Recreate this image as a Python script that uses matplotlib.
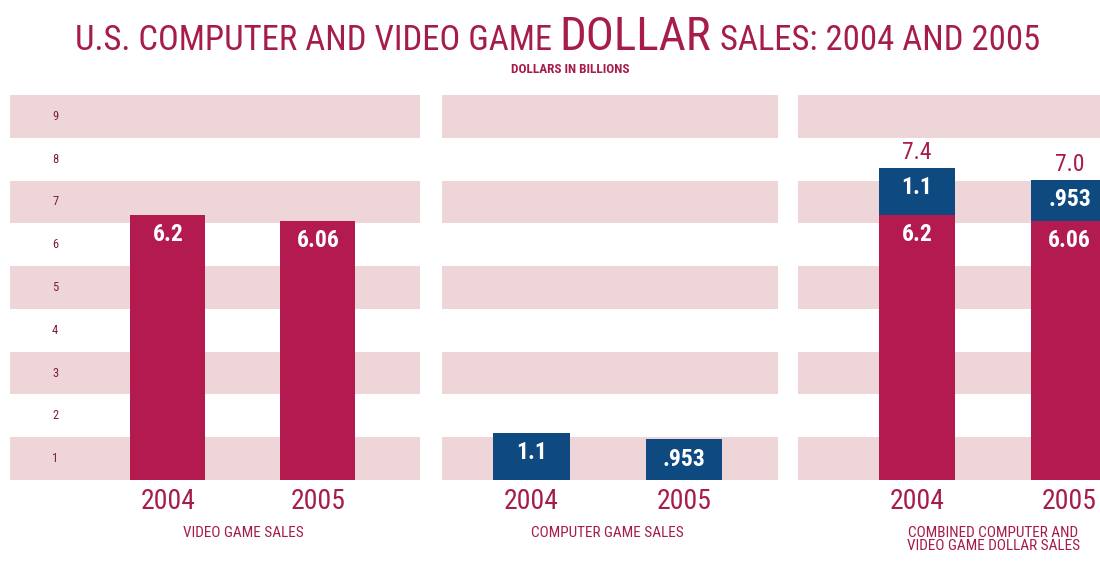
import matplotlib
matplotlib.use("Agg")
import matplotlib.pyplot as plt
from matplotlib import font_manager

# values in billions of dollars
years = ["2004", "2005"]
video_sales = [6.2, 6.06]
video_labels = ["6.2", "6.06"]
computer_sales = [1.1, 0.953]
computer_labels = ["1.1", ".953"]
combined_totals = ["7.4", "7.0"]
tick_values = [1, 2, 3, 4, 5, 6, 7, 8, 9]
panel_titles = ["VIDEO GAME SALES", "COMPUTER GAME SALES",
                "COMBINED COMPUTER AND\nVIDEO GAME DOLLAR SALES"]

RED = "#B31A50"
BLUE = "#0E4A80"
STRIPE = "#EED5D7"
TEXT = "#A61C4C"
TICK = "#7E1C3A"


def pick_font():
    fonts = font_manager.fontManager.ttflist
    names = {f.name for f in fonts}
    for n in ["Liberation Sans Narrow", "Roboto Condensed", "Open Sans Condensed",
              "DejaVu Sans Condensed"]:
        if n in names:
            return n, "normal"
    for f in fonts:
        if f.name == "DejaVu Sans" and f.stretch in ("condensed", "semi-condensed", 87, 75):
            return "DejaVu Sans", "condensed"
    return "DejaVu Sans", "normal"


FONT, STRETCH = pick_font()
plt.rcParams["font.family"] = [FONT, "DejaVu Sans"]
plt.rcParams["font.stretch"] = STRETCH

fig = plt.figure(figsize=(11, 5.7), dpi=100)
W, H = 1100, 570


def px_axes(x0, x1, y0=95, y1=480):
    return fig.add_axes([x0 / W, 1 - y1 / H, (x1 - x0) / W, (y1 - y0) / H])


ax1 = px_axes(10, 420)
ax2 = px_axes(442, 778)
ax3 = px_axes(798, 1100)
x = [0, 1]

for ax, lim in [(ax1, (-1.053, 1.68)), (ax2, (-0.587, 1.616)), (ax3, (-0.78, 1.2))]:
    for k in range(0, 9, 2):
        ax.axhspan(k, k + 1, color=STRIPE, lw=0, zorder=0)
    ax.set_xlim(*lim)
    ax.set_ylim(0, 9)
    ax.axis("off")


def inside(ax, xs, tops, labels):
    for xi, top, lab in zip(xs, tops, labels):
        ax.annotate(lab, (xi, top), xytext=(0, -6), textcoords="offset points",
                    ha="center", va="top", color="white", fontsize=17,
                    fontweight="bold", annotation_clip=False)


# video game sales
ax1.bar(x, video_sales, width=0.5, color=RED, zorder=2)
inside(ax1, x, video_sales, video_labels)
for v in tick_values:
    ax1.text(0.11, v - 0.5, str(v), transform=ax1.get_yaxis_transform(),
             ha="center", va="center", fontsize=9, color=TICK)

# computer game sales
ax2.bar(x, computer_sales, width=0.5, color=BLUE, zorder=2)
inside(ax2, x, computer_sales, computer_labels)

# combined, stacked
ax3.bar(x, video_sales, width=0.5, color=RED, zorder=2)
ax3.bar(x, computer_sales, width=0.5, bottom=video_sales, color=BLUE, zorder=2)
inside(ax3, x, video_sales, video_labels)
stack_tops = [a + b for a, b in zip(video_sales, computer_sales)]
inside(ax3, x, stack_tops, computer_labels)
for xi, top, lab in zip(x, stack_tops, combined_totals):
    ax3.annotate(lab, (xi, top), xytext=(0, 3), textcoords="offset points",
                 ha="center", va="bottom", color=TEXT, fontsize=17)

for ax, title in zip([ax1, ax2, ax3], panel_titles):
    for xi, yr in zip(x, years):
        ax.annotate(yr, (xi, 0), xytext=(0, -6), textcoords="offset points",
                    ha="center", va="top", color=TEXT, fontsize=20,
                    annotation_clip=False)
    ax.annotate(title, (0.5, 0), xytext=(0, -33), textcoords="offset points",
                ha="center", va="top", color=TEXT, fontsize=11,
                linespacing=0.9, annotation_clip=False)

# title built from runs so DOLLAR can be larger
renderer = fig.canvas.get_renderer()
runs = [("U.S. COMPUTER AND VIDEO GAME", 28), ("DOLLAR", 38),
        ("SALES: 2004 AND 2005", 28)]
texts = [fig.text(0, 1 - 50 / H, s, fontsize=sz, color=TEXT, va="baseline")
         for s, sz in runs]


def layout(scale):
    xpos = 75
    for t, (s, sz) in zip(texts, runs):
        t.set_fontsize(sz * scale)
        t.set_x(xpos / W)
        xpos += t.get_window_extent(renderer).width + sz * scale * 0.28
    return xpos - runs[-1][1] * scale * 0.28


end = layout(1.0)
layout((1040 - 75) / (end - 75))

fig.text(570 / W, 1 - 70 / H, "DOLLARS IN BILLIONS", ha="center", va="center",
         fontsize=9.5, fontweight="bold", color=TEXT)

fig.savefig("out.png", dpi=100, facecolor="white")
